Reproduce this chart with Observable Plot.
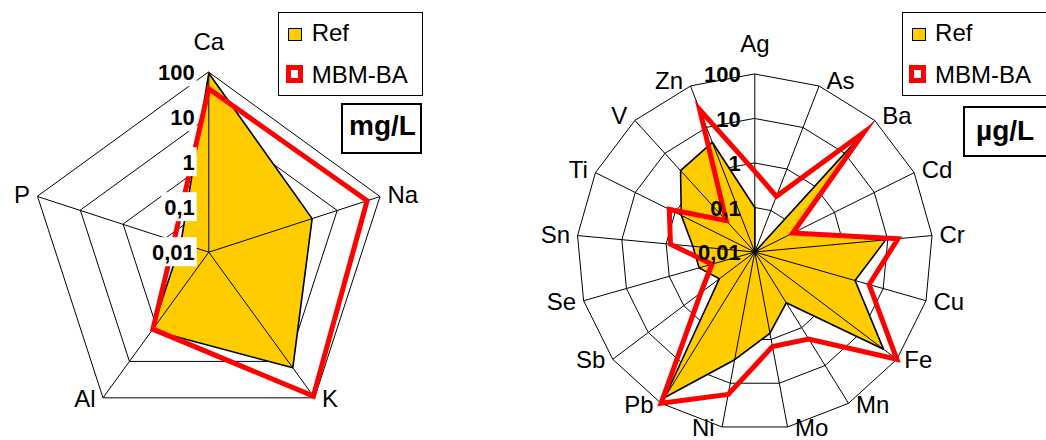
<!DOCTYPE html>
<html><head><meta charset="utf-8">
<script src="https://cdn.jsdelivr.net/npm/d3@7"></script>
<script src="https://cdn.jsdelivr.net/npm/@observablehq/plot@0.6"></script>
<style>
html,body{margin:0;padding:0;background:#fff;}
#wrap{position:relative;width:1046px;height:440px;overflow:hidden;font-family:"Liberation Sans",Arial,sans-serif;color:#000;}
#charts{position:absolute;left:0;top:0;display:flex;}
#charts svg{overflow:visible;}
.abs{position:absolute;box-sizing:border-box;white-space:nowrap;line-height:normal;}
.legend{border:1px solid #000;background:#fff;}
.unit{border:2px solid #000;background:#fff;}
.sw-ref{width:14px;height:13px;border:1.5px solid #000;background:#FFCC00;}
.sw-mbm{width:17px;height:18px;border:5px solid #FF0000;background:#fff;}
.lt{font-size:24px;}
.ut{font-size:28px;font-weight:bold;}
</style></head><body>
<div id="wrap"><div id="charts"></div></div>
<script>
// ---- data ----
const majorAxes = ["Ca","Na","K","Al","P"];
const majorRef  = [95, 2.6, 15, 1.4, 0.045];
const majorMBM  = [43, 50, 90, 1.3, 0.065];

const traceAxes = ["Ag","As","Ba","Cd","Cr","Cu","Fe","Mn","Mo","Ni","Pb","Sb","Se","Sn","Ti","V","Zn"];
const traceRef  = [0.1, 0.01, 28, 0.09, 9, 2.2, 42, 0.22, 0.72, 2.9, 70, 0.1, 0.2, 0.25, 0.7, 3.0, 4.4];
const traceMBM  = [0.65, 0.22, 44, 0.09, 17, 4.7, 105, 2.0, 1.45, 18, 145, 0.33, 0.1, 0.8, 1.4, 0.09, 27];

const ringValues = [100, 10, 1, 0.1, 0.01];
const ringLabels = ["100", "10", "1", "0,1", "0,01"];
const seriesNames = ["Ref", "MBM-BA"];
const units = ["mg/L", "µg/L"];

// ---- chart ----
const ctx = document.createElement("canvas").getContext("2d");
ctx.font = "bold 22px 'Liberation Sans'";

function radar({axes, ref, mbm, cx, cy, R, boxes}) {
  const W = 523, H = 440;
  const r = d3.scaleLog().domain([0.01, 100]).range([0, 4]).clamp(true);
  const ppu = R / 4, px = 1 / ppu;
  const n = axes.length;
  const ang = i => 2 * Math.PI * i / n;
  const pt = (v, i) => ({x: r(v) * Math.sin(ang(i)), y: r(v) * Math.cos(ang(i))});
  const ringPts = ringValues.filter(v => v > 0.01).flatMap(v => axes.map((a, i) => ({ring: v, ...pt(v, i)})));
  const refPts = ref.map((v, i) => ({axis: axes[i], ...pt(v, i)}));
  const mbmPts = mbm.map((v, i) => ({axis: axes[i], ...pt(v, i)}));
  const spokes = axes.map((a, i) => ({axis: a, ...pt(100, i)}));
  const ticks = ringValues.map((v, k) => ({y: r(v), label: ringLabels[k], w: ctx.measureText(ringLabels[k]).width}));
  const labels = axes.map((a, i) => {
    const s = Math.sin(ang(i)), c = Math.cos(ang(i));
    const anchor = Math.abs(s) < 0.05 ? "middle" : s > 0 ? "start" : "end";
    let x = 4 * s, y = 4 * c;
    if (anchor === "middle") y += (c > 0 ? 29.5 : -29.5) * px;
    else { x += Math.sign(s) * 7.5 * px; y += (c > 0 ? 5.5 * c : -1.5) * px; }
    return {axis: a, x, y, anchor};
  });
  return Plot.plot({
    width: W, height: H,
    x: {domain: [-4, 4], range: [cx - R, cx + R], axis: null},
    y: {domain: [-4, 4], range: [cy + R, cy - R], axis: null},
    style: {fontFamily: "'Liberation Sans', Arial, sans-serif", background: "transparent", overflow: "visible"},
    marks: [
      Plot.line(ringPts, {x: "x", y: "y", z: "ring", curve: "linear-closed", stroke: "#000", strokeWidth: 1, fill: "none"}),
      Plot.line(refPts, {x: "x", y: "y", curve: "linear-closed", fill: "#FFCC00", stroke: "none"}),
      Plot.link(spokes, {x1: () => 0, y1: () => 0, x2: "x", y2: "y", stroke: "#000", strokeWidth: 1}),
      Plot.line(refPts, {x: "x", y: "y", curve: "linear-closed", stroke: "#000", strokeWidth: 1.6, fill: "none", strokeLinejoin: "miter"}),
      Plot.line(mbmPts, {x: "x", y: "y", curve: "linear-closed", stroke: "#FF0000", strokeWidth: 5, fill: "none", strokeLinejoin: "miter", strokeMiterlimit: 10}),
      boxes ? Plot.rect(ticks, {
        x1: d => -(14 + d.w + 2.5) * px, x2: () => -11.6 * px,
        y1: d => d.y - 14.5 * px, y2: d => d.y + 14.5 * px, fill: "#fff"
      }) : null,
      Plot.text(ticks, {x: () => 0, y: "y", text: "label", textAnchor: "end", dx: -14, dy: 1, fontWeight: "bold", fontSize: 22, fill: "#000"}),
      ...["start", "middle", "end"].map(anchor =>
        Plot.text(labels.filter(d => d.anchor === anchor), {x: "x", y: "y", text: "axis", textAnchor: anchor, fontSize: 24, fill: "#000"}))
    ]
  });
}

const charts = document.getElementById("charts");
charts.append(
  radar({axes: majorAxes, ref: majorRef, mbm: majorMBM, cx: 208.3, cy: 251.7, R: 180, boxes: true}),
  radar({axes: traceAxes, ref: traceRef, mbm: traceMBM, cx: 231.3, cy: 251.5, R: 178, boxes: false})
);

// ---- legends and unit boxes ----
const wrap = document.getElementById("wrap");
function el(cls, style, text) {
  const d = document.createElement("div");
  d.className = "abs " + cls;
  Object.assign(d.style, style);
  if (text) d.textContent = text;
  wrap.append(d);
}
[[278.3, 0, 103, 109.7, 349], [901.7, 1, 106, 114.7, 976]].forEach(([lx, k, uy, uty, utx]) => {
  el("legend", {left: lx + "px", top: "11.7px", width: "145px", height: "84px"});
  el("sw-ref", {left: (lx + 10) + "px", top: "28.3px"});
  el("lt", {left: (lx + 33.4) + "px", top: "19px"}, seriesNames[0]);
  el("sw-mbm", {left: (lx + 7.7) + "px", top: "65px"});
  el("lt", {left: (lx + 33.4) + "px", top: "60.8px"}, seriesNames[1]);
  const ux = k === 0 ? 341 : 962.7;
  el("unit", {left: ux + "px", top: uy + "px", width: (k === 0 ? 81 : 95) + "px", height: "51px"});
  el("ut", {left: utx + "px", top: uty + "px"}, units[k]);
});
</script>
</body></html>
